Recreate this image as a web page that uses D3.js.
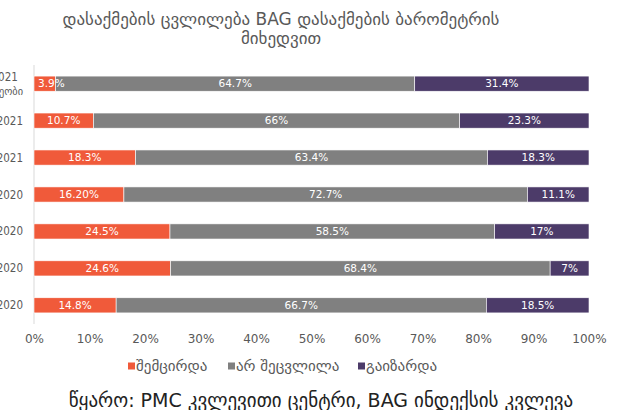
<!DOCTYPE html>
<html>
<head>
<meta charset="utf-8">
<script src="https://cdn.jsdelivr.net/npm/d3@7"></script>
<style>
  body { margin: 0; background: #fff; }
  svg { font-family: "DejaVu Sans", sans-serif; }
</style>
</head>
<body>
<div id="chart"></div>
<script>
// rows, top to bottom
const periods = [
  ["მარტი 2021", "მდგომარეობი"],
  ["თებერვალი 2021"],
  ["იანვარი 2021"],
  ["დეკემბერი 2020"],
  ["ნოემბერი 2020"],
  ["ოქტომბერი 2020"],
  ["სექტემბერი 2020"]
];
const decreased = [3.9, 10.7, 18.3, 16.2, 24.5, 24.6, 14.8];
const unchanged = [64.7, 66, 63.4, 72.7, 58.5, 68.4, 66.7];
const increased = [31.4, 23.3, 18.3, 11.1, 17, 7, 18.5];
const decreasedLabels = ["3.9%", "10.7%", "18.3%", "16.20%", "24.5%", "24.6%", "14.8%"];
const unchangedLabels = ["64.7%", "66%", "63.4%", "72.7%", "58.5%", "68.4%", "66.7%"];
const increasedLabels = ["31.4%", "23.3%", "18.3%", "11.1%", "17%", "7%", "18.5%"];
const seriesNames = ["შემცირდა", "არ შეცვლილა", "გაიზარდა"];
const colors = ["#f05a3a", "#808080", "#4c3b69"];
const xTicks = [0, 10, 20, 30, 40, 50, 60, 70, 80, 90, 100];

const width = 625, height = 410;
const svg = d3.select("#chart").append("svg")
  .attr("width", width)
  .attr("height", height);

const x = d3.scaleLinear().domain([0, 100]).range([34, 589]);
const y = d3.scaleBand()
  .domain(d3.range(periods.length))
  .range([65, 324])
  .paddingInner(0.59)
  .paddingOuter(0.3);

// title
svg.append("text")
  .attr("x", 281).attr("y", 25)
  .attr("text-anchor", "middle")
  .attr("font-size", 17)
  .attr("fill", "#595959")
  .selectAll("tspan")
  .data(["დასაქმების ცვლილება BAG დასაქმების ბარომეტრის", "მიხედვით"])
  .join("tspan")
  .attr("x", 281)
  .attr("dy", (d, i) => i ? 19 : 0)
  .text(d => d);

// axis line
svg.append("line")
  .attr("x1", x(0)).attr("x2", x(0))
  .attr("y1", 65).attr("y2", 324)
  .attr("stroke", "#d9d9d9");

const rows = periods.map((p, i) => {
  const vals = [decreased[i], unchanged[i], increased[i]];
  const labs = [decreasedLabels[i], unchangedLabels[i], increasedLabels[i]];
  let acc = 0;
  return vals.map((v, k) => {
    const seg = { row: i, k: k, x0: acc, x1: acc + v, label: labs[k] };
    acc += v;
    return seg;
  });
}).flat();

svg.append("g").selectAll("rect")
  .data(rows)
  .join("rect")
  .attr("x", d => x(d.x0))
  .attr("y", d => y(d.row))
  .attr("width", d => x(Math.min(d.x1, 100)) - x(d.x0))
  .attr("height", y.bandwidth())
  .attr("fill", d => colors[d.k])
  .attr("stroke", "#fff")
  .attr("stroke-width", 0.6);

svg.append("g").selectAll("text")
  .data(rows)
  .join("text")
  .attr("y", d => y(d.row) + y.bandwidth() / 2)
  .attr("dy", "0.35em")
  .attr("text-anchor", "middle")
  .attr("font-size", 10.5)
  .attr("fill", "#fff")
  .text(d => d.label)
  .attr("x", function (d) {
    const mid = (x(d.x0) + x(Math.min(d.x1, 100))) / 2;
    // keep a too-wide label inside the plot on the left
    return Math.max(mid, x(d.x0) + this.getComputedTextLength() / 2 + 4);
  });

// category labels (clipped at the left edge like the original)
const labelRight = 23;
svg.append("g").selectAll("text")
  .data(periods)
  .join("text")
  .attr("y", (d, i) => y(i) + y.bandwidth() / 2 - (d.length - 1) * 7)
  .attr("text-anchor", "middle")
  .attr("font-family", "'DejaVu Sans Condensed', 'DejaVu Sans', sans-serif")
  .attr("font-stretch", "condensed")
  .attr("font-size", 11.5)
  .attr("fill", "#595959")
  .each(function (d) {
    const t = d3.select(this);
    const spans = t.selectAll("tspan").data(d).join("tspan")
      .attr("dy", (s, i) => i ? 14 : "0.35em")
      .text(s => s);
    const maxLen = d3.max(spans.nodes(), n => n.getComputedTextLength());
    spans.attr("x", labelRight - maxLen / 2);
  });

// x axis
const xAxis = svg.append("g")
  .attr("transform", "translate(0,324)")
  .call(d3.axisBottom(x).tickValues(xTicks).tickFormat(d => d + "%").tickSize(0).tickPadding(10));
xAxis.select(".domain").remove();
xAxis.selectAll("text")
  .attr("font-family", "DejaVu Sans, sans-serif")
  .attr("font-size", 12)
  .attr("fill", "#595959");

// legend
const legendX = [128, 228, 358];
const legend = svg.append("g").selectAll("g")
  .data(seriesNames)
  .join("g")
  .attr("transform", (d, i) => `translate(${legendX[i]},366)`);
legend.append("rect")
  .attr("x", 0).attr("y", -3.5)
  .attr("width", 7).attr("height", 7)
  .attr("fill", (d, i) => colors[i]);
legend.append("text")
  .attr("x", 8).attr("dy", "0.35em")
  .attr("font-size", 15)
  .attr("fill", "#595959")
  .text(d => d);

// source
svg.append("text")
  .attr("x", 321).attr("y", 407)
  .attr("text-anchor", "middle")
  .attr("font-size", 19)
  .attr("fill", "#222")
  .text("წყარო: PMC კვლევითი ცენტრი, BAG ინდექსის კვლევა");
</script>
</body>
</html>
